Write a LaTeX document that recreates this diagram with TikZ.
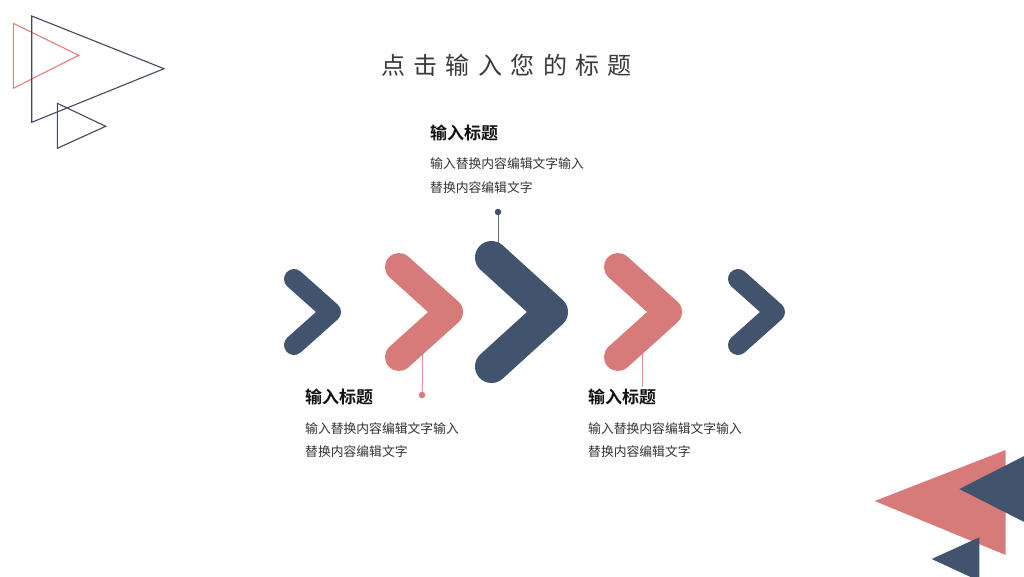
\documentclass[tikz,border=0pt]{standalone}
\usepackage{fontspec}
\setmainfont{Noto Sans CJK SC}
\newfontfamily\cjkfont{Noto Sans CJK SC}
\newfontfamily\cjkbold{Noto Sans CJK SC Bold}
\definecolor{navy}{HTML}{42536D}
\definecolor{rose}{HTML}{D77B7A}
\definecolor{navyline}{HTML}{3F4A5E}
\definecolor{roseline}{HTML}{E47F7F}
\definecolor{titlegray}{HTML}{3A3A3A}
\definecolor{headc}{HTML}{111111}
\definecolor{bodyc}{HTML}{333333}
\tikzset{
  chev/.style={line width=#1, line cap=round, line join=round},
  heading/.style={anchor=west, inner sep=0pt, font=\cjkbold\fontsize{17}{18}\selectfont, text=headc},
  body/.style={anchor=west, inner sep=0pt, font=\cjkfont\fontsize{12.8}{14}\selectfont, text=bodyc},
  dotn/.style={circle, inner sep=0pt, minimum size=6.5pt, fill=#1},
  conn/.style={line width=0.9pt, draw=#1},
  outline/.style={line width=1.1pt, line join=miter},
}
\begin{document}
\begin{tikzpicture}[x=1pt,y=-1pt]
\useasboundingbox (0,0) rectangle (1024,576);
\clip (0,0) rectangle (1024,576);
\fill[white] (0,0) rectangle (1024,576);
% top-left outline triangles
\draw[outline, draw=roseline] (13.3,23.3) -- (78.7,55.3) -- (13.3,88.3) -- cycle;
\draw[outline, draw=navyline] (31.7,16) -- (164,68.7) -- (31.7,122.3) -- cycle;
\draw[outline, draw=navyline] (57.3,103.3) -- (105.7,126.3) -- (57.3,148.3) -- cycle;
% bottom-right filled triangles
\fill[rose] (874.7,501) -- (1005.7,450) -- (1005.7,555) -- cycle;
\fill[navy] (959.3,489) -- (1040,448) -- (1040,530) -- cycle;
\fill[navy] (931.7,559) -- (979.3,537.3) -- (979.3,581) -- cycle;
% title
\node[font=\cjkfont\fontsize{24}{26}\selectfont, text=titlegray, inner sep=0pt] (title) at (506.5,65)
  {点\hspace{8.4pt}击\hspace{8.4pt}输\hspace{8.4pt}入\hspace{8.4pt}您\hspace{8.4pt}的\hspace{8.4pt}标\hspace{8.4pt}题};
% connector anchors
\coordinate (c3top) at (498,255);
\coordinate (c2bot) at (422,350);
\coordinate (c4bot) at (642,350);
\coordinate (c4end) at (642,388);
\node[dotn=navy] (dot1) at (498,212) {};
\node[dotn=rose] (dot2) at (422,395) {};
\draw[conn=navyline!80] (dot1) -- (c3top);
\draw[conn=roseline!85] (c2bot) -- (dot2);
\draw[conn=roseline!85] (c4bot) -- (c4end);
% chevrons
\draw[chev=20pt, navy] (294,279) -- (331,312) -- (294,345);
\draw[chev=28pt, rose] (399,267) -- (449,312) -- (399,357);
\draw[chev=33pt, navy] (491.5,257.5) -- (551.5,312) -- (491.5,366.5);
\draw[chev=28pt, rose] (618,267) -- (668,312) -- (618,357);
\draw[chev=20pt, navy] (738,279) -- (775,312) -- (738,345);
% text blocks
\node[heading] (h1) at (430,133) {输入标题};
\node[body] (b1a) at (430,164) {输入替换内容编辑文字输入};
\node[body] (b1b) at (430,188) {替换内容编辑文字};
\node[heading] (h2) at (305,397) {输入标题};
\node[body] (b2a) at (305,429) {输入替换内容编辑文字输入};
\node[body] (b2b) at (305,452) {替换内容编辑文字};
\node[heading, fill=white, inner ysep=2pt] (h3) at (588,397) {输入标题};
\node[body] (b3a) at (588,429) {输入替换内容编辑文字输入};
\node[body] (b3b) at (588,452) {替换内容编辑文字};
\end{tikzpicture}
\end{document}
